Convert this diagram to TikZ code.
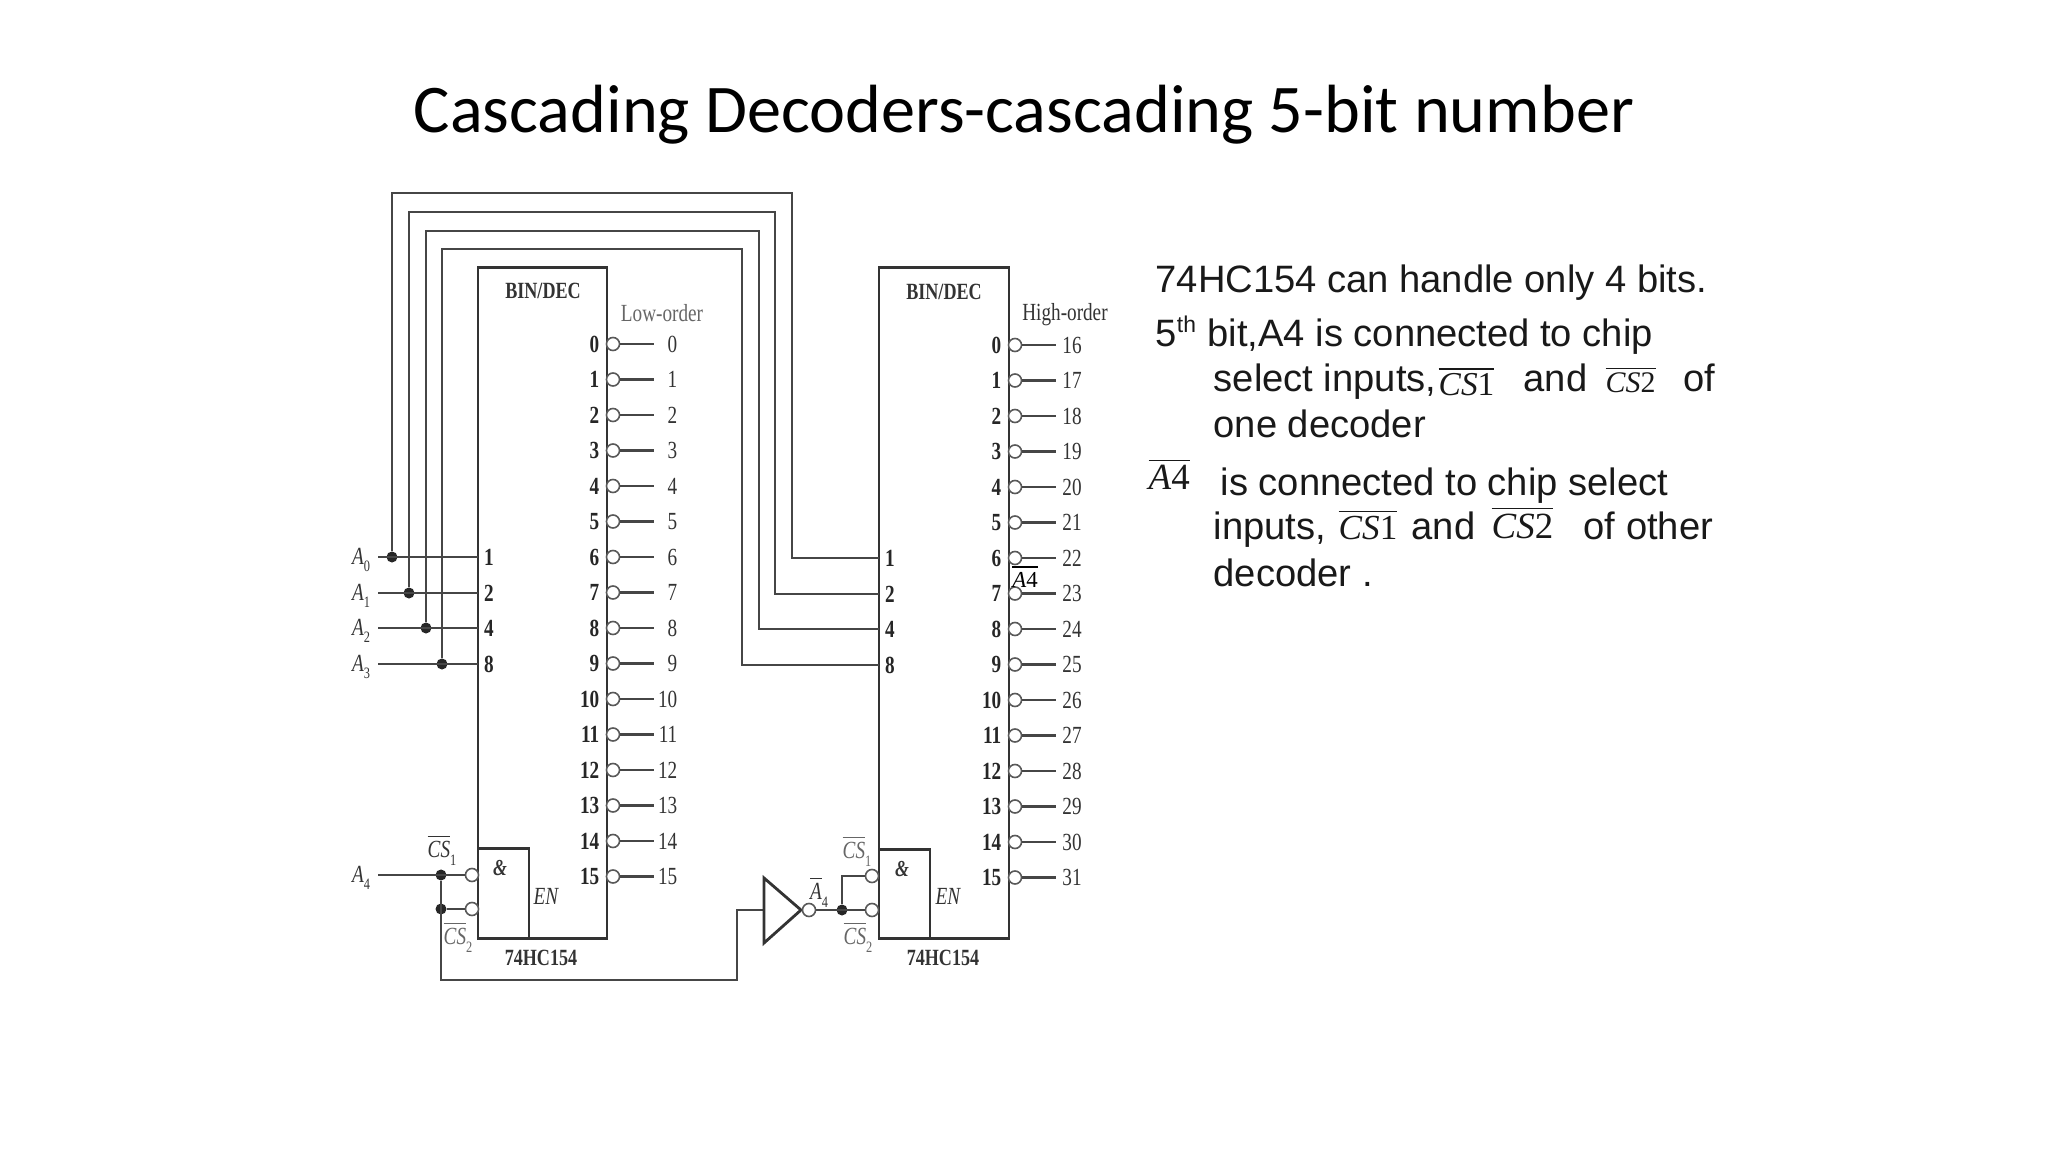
\documentclass[tikz,border=0pt]{standalone}
\usepackage{fontspec}
\setmainfont{Liberation Sans}
\newfontfamily\titlef{Carlito}
\newfontfamily\timesf{Liberation Serif}
\newfontfamily\chipf[FakeStretch=0.78]{Liberation Serif}
\newcommand{\barsub}[2]{$\overline{\hbox{\itshape #1}}$\raisebox{-.3em}{\fontsize{4.5}{5}\selectfont #2}}
\newcommand{\barnum}[2]{$\overline{\hbox{\timesf\itshape #1\upshape #2}}$}
\tikzset{wire/.style = {draw, gray!55!black, line width=0.6pt}}
\tikzset{chip/.style = {draw, black!80, line width=0.8pt, inner sep=0, outer sep=0}}
\tikzset{bub/.style = {draw, gray!70!black, circle, fill=white, line width=0.45pt, inner sep=0, minimum size=0.13cm}}
\tikzset{circ/.style = {fill, black!85, circle, inner sep=0, minimum size=0.11cm}}
\tikzset{lab/.style = {font=\chipf\fontsize{7}{8}\selectfont, inner sep=0, text=black!80}}
\tikzset{pin/.style = {font=\chipf\bfseries\fontsize{7}{8}\selectfont, inner sep=0, text=black!85}}
\tikzset{say/.style = {font=\fontsize{10.85}{12}\selectfont, anchor=base west, inner sep=0, text=black!90}}
\begin{document}
\begin{tikzpicture}[x=0.01cm, y=-0.01cm]
    \useasboundingbox (0, 0) rectangle (2048, 1152);
    \node [font=\titlef\fontsize{19.4}{21}\selectfont, anchor=base, inner sep=0] (title) at (1024, 133) {Cascading Decoders-cascading 5-bit number};

    % Decoders
    \node [chip, minimum width=1.29cm, minimum height=6.70cm] (low) at (542.5, 603) {};
    \node [chip, minimum width=1.30cm, minimum height=6.70cm] (high) at (944, 603) {};
    \node [chip, minimum width=0.51cm, minimum height=0.90cm, anchor=south west] (lowand) at (low.south west) {};
    \node [chip, minimum width=0.51cm, minimum height=0.89cm, anchor=south west] (highand) at (high.south west) {};
    \node [lab, font=\chipf\bfseries\fontsize{6.6}{8}\selectfont] (lowbin) at (543, 291) {BIN/DEC};
    \node [lab, font=\chipf\bfseries\fontsize{6.6}{8}\selectfont] (highbin) at (944, 292) {BIN/DEC};
    \node [lab, text=black!60] (loword) at (662, 313) {Low-order};
    \node [lab] (highord) at (1065, 315) {High-order};
    \node [lab, font=\chipf\bfseries\fontsize{6.6}{8}\selectfont] (lowic) at (541, 958) {74HC154};
    \node [lab, font=\chipf\bfseries\fontsize{6.6}{8}\selectfont] (highic) at (943, 958) {74HC154};
    \node [lab, font=\chipf\bfseries\itshape\fontsize{6.5}{8}\selectfont] (lowamp) at (500, 868) {\&};
    \node [lab, font=\chipf\bfseries\itshape\fontsize{6.5}{8}\selectfont] (highamp) at (902, 869) {\&};
    \node [lab, font=\chipf\itshape\fontsize{7}{8}\selectfont] (lowen) at (546, 896) {EN};
    \node [lab, font=\chipf\itshape\fontsize{7}{8}\selectfont] (highen) at (948, 896) {EN};

    % Outputs
    \foreach \n in {0,...,15} {
        \pgfmathsetmacro{\yy}{344 + 35.5*\n}
        \pgfmathtruncatemacro{\hn}{\n + 16}
        \node [bub] (lowb\n) at (613, \yy) {};
        \coordinate (lowo\n) at (654, \yy);
        \draw [wire] (lowb\n) -- (lowo\n);
        \node [pin, anchor=east] (lowp\n) at (600, \yy) {\n};
        \node [lab, anchor=east] (lown\n) at (678, \yy) {\n};
        \node [bub] (highb\n) at (1015, \yy + 1) {};
        \coordinate (higho\n) at (1056, \yy + 1);
        \draw [wire] (highb\n) -- (higho\n);
        \node [pin, anchor=east] (highp\n) at (1002, \yy + 1) {\n};
        \node [lab] (highn\n) at (1072, \yy + 1) {\hn};
    }

    % Address inputs and the loops over the top
    \foreach \i/\w/\yy/\xx/\tt/\rr in {0/1/557/392/193/792, 1/2/593/409/212/775, 2/4/628/426/231/759, 3/8/664/442/249/742} {
        \coordinate (ain\i) at (378, \yy);
        \coordinate (lin\i) at (478, \yy);
        \coordinate (hin\i) at (879, \yy + 1);
        \coordinate (turn\i) at (\rr, \tt);
        \node [circ] (adot\i) at (\xx, \yy) {};
        \node [lab, font=\chipf\itshape\fontsize{7}{8}\selectfont] (alab\i) at (361, \yy + 3) {A\raisebox{-.3em}{\fontsize{4.5}{5}\selectfont\upshape\i}};
        \node [pin] (lowi\i) at (489, \yy) {\w};
        \node [pin] (highi\i) at (890, \yy + 1) {\w};
        \draw [wire] (ain\i) -- (lin\i);
        \draw [wire] (adot\i) |- (turn\i) |- (hin\i);
    }

    % Chip select, first decoder
    \coordinate (afour) at (378, 875);
    \coordinate (lowcorner) at (737, 980);
    \coordinate (invin) at (764, 910);
    \coordinate (invtop) at (764, 878);
    \coordinate (invbot) at (764, 943);
    \coordinate (invtip) at (801, 910);
    \node [bub] (lowcsa) at (472, 875) {};
    \node [bub] (lowcsb) at (472, 909) {};
    \node [circ] (lowdota) at (441, 875) {};
    \node [circ] (lowdotb) at (441, 909) {};
    \draw [wire] (afour) -- (lowcsa);
    \draw [wire] (lowdotb) -- (lowcsb);
    \draw [wire] (lowdota) |- (lowcorner) |- (invin);
    \node [lab, font=\chipf\itshape\fontsize{7}{8}\selectfont] (afourlab) at (361, 878) {A\raisebox{-.3em}{\fontsize{4.5}{5}\selectfont\upshape 4}};
    \node [lab] (lowcsone) at (442, 850) {\barsub{CS}{1}};
    \node [lab, text=black!60] (lowcstwo) at (458, 937) {\barsub{CS}{2}};

    % Inverter and second decoder
    \draw [chip] (invtop) -- (invtip) -- (invbot) -- cycle;
    \node [bub] (invb) at (809, 910) {};
    \node [circ] (highdot) at (842, 910) {};
    \coordinate (highturn) at (842, 876);
    \node [bub] (highcsa) at (872, 876) {};
    \node [bub] (highcsb) at (872, 910) {};
    \draw [wire] (invb) -- (highcsb);
    \draw [wire] (highdot) -- (highturn) -- (highcsa);
    \node [lab] (invlab) at (819, 892) {\barsub{A}{4}};
    \node [lab, text=black!60] (highcsone) at (857, 851) {\barsub{CS}{1}};
    \node [lab, text=black!60] (highcstwo) at (858, 937) {\barsub{CS}{2}};
    \node [font=\timesf\fontsize{6.5}{8}\selectfont, inner sep=0] (chiplab) at (1025, 576) {\barnum{A}{4}};

    % Notes
    \node [say] (noteone) at (1155, 293) {74HC154 can handle only 4 bits.};
    \node [say] (notetwo) at (1155, 347) {5\raisebox{.38em}{\fontsize{6.5}{8}\selectfont th}\hspace{.3em}bit,A4 is connected to chip};
    \node [say] (notethree) at (1213, 392) {select inputs,};
    \node [say, font=\timesf\fontsize{9.5}{12}\selectfont] (notecsa) at (1438, 396) {\barnum{CS}{1}};
    \node [say] (noteand) at (1523, 392) {and};
    \node [say, font=\timesf\fontsize{8.5}{12}\selectfont] (notecsb) at (1605, 393) {\barnum{CS}{2}};
    \node [say] (noteof) at (1683, 392) {of};
    \node [say] (notefour) at (1213, 438) {one decoder};
    \node [say, font=\timesf\fontsize{10.5}{12}\selectfont] (notebar) at (1148, 490) {\barnum{A}{4}};
    \node [say] (notefive) at (1220, 495) {is connected to chip select};
    \node [say] (notesix) at (1213, 540) {inputs,};
    \node [say, font=\timesf\fontsize{10}{12}\selectfont] (notecsc) at (1338, 540) {\barnum{CS}{1}};
    \node [say] (noteandb) at (1411, 540) {and};
    \node [say, font=\timesf\fontsize{10.5}{12}\selectfont] (notecsd) at (1491, 538) {\barnum{CS}{2}};
    \node [say] (noteother) at (1583, 540) {of other};
    \node [say] (noteseven) at (1213, 587) {decoder .};
\end{tikzpicture}
\end{document}
